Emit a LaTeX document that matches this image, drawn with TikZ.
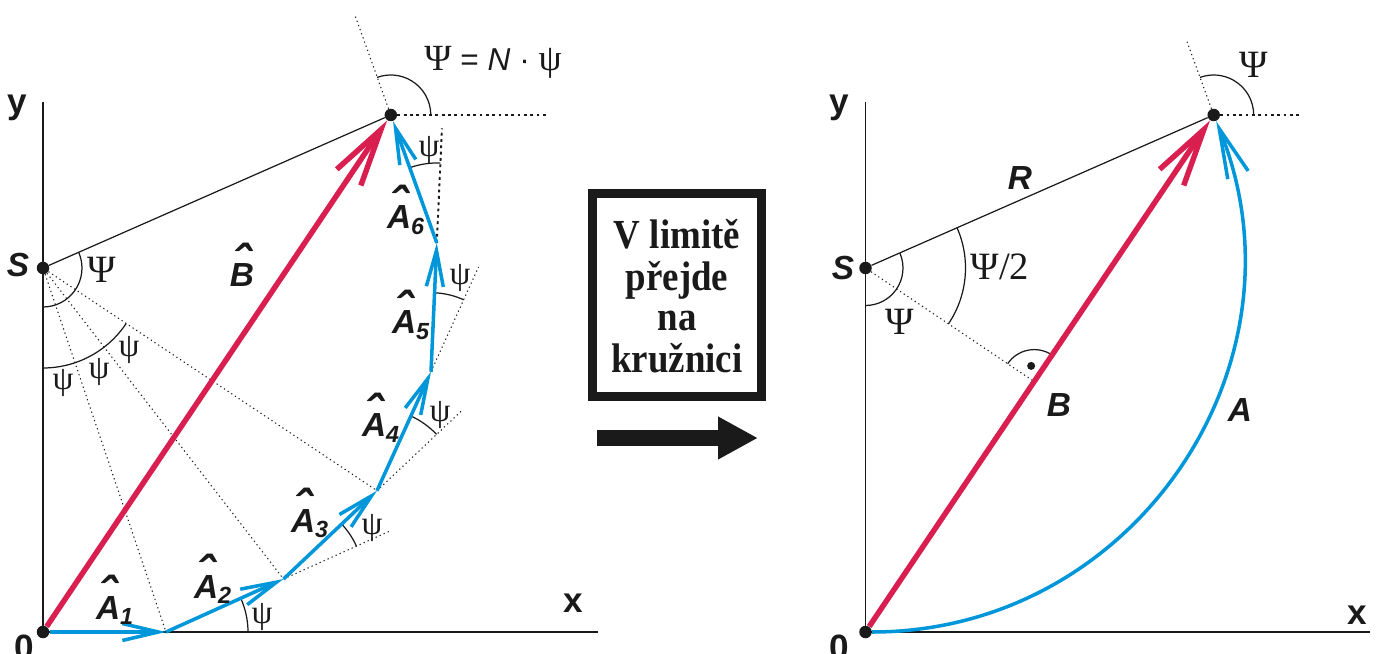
\documentclass[tikz,border=0pt]{standalone}
\usepackage{fontspec}
\usepackage{graphicx}
\setmainfont{Liberation Sans}
\newfontfamily\grkfont{Liberation Serif}
\usetikzlibrary{arrows.meta,calc}
\definecolor{phRed}{HTML}{D91E50}
\definecolor{phBlue}{HTML}{0096DA}
\definecolor{phInk}{HTML}{1A1A1A}
\newcommand{\hatted}[1]{\leavevmode\ooalign{#1\cr\hidewidth\raisebox{0.2em}{\scalebox{1.5}{ˆ}}\hidewidth\cr}}
\newcommand{\vecA}[1]{\hatted{A}\textsubscript{#1}}
\tikzset{
  phdot/.style={circle, fill=phInk, inner sep=0pt, minimum size=2.5mm},
  phaxis/.style={draw=phInk, line width=0.7pt},
  phthin/.style={draw=phInk, line width=0.7pt},
  phdots/.style={draw=phInk, line width=0.6pt, dash pattern=on 0.7pt off 1.8pt},
  phdash/.style={draw=phInk, line width=1.1pt, dash pattern=on 1.6pt off 2pt},
  phred/.style={draw=phRed, line width=3.1pt, -{Straight Barb[length=11.5mm, width=5.8mm, sharp]}},
  phblue/.style={draw=phBlue, line width=2pt, -{Straight Barb[length=7.2mm, width=3.4mm, sharp]}},
  phlbl/.style={font=\fontsize{19}{21}\selectfont\bfseries\itshape, text=phInk, inner sep=0pt},
  phax/.style={font=\fontsize{20}{22}\selectfont\bfseries, text=phInk, inner sep=0pt},
  phcap/.style={font=\fontsize{22}{24}\selectfont\grkfont, text=phInk, inner sep=0pt},
  phsmall/.style={font=\fontsize{19}{21}\selectfont\grkfont, text=phInk, inner sep=0pt}
}

\begin{document}
\begin{tikzpicture}[x=0.2mm, y=0.2mm]
  \useasboundingbox (0,0) rectangle (1380,653);

  % left: chain of N phasors
  \node[phdot] (O) at (43,21) {};
  \node[phdot] (S) at (43,385) {};
  \node[phdot] (P) at (390.8,538) {};
  \coordinate (V1) at (166,21);
  \coordinate (V2) at (283.5,74);
  \coordinate (V3) at (377,162.3);
  \coordinate (V4) at (431,281.3);
  \coordinate (V5) at (436.8,410);
  \coordinate (ytop) at (43,551);
  \coordinate (xend) at (598,21);
  \coordinate (hor1) at (547,538);

  \draw[phaxis] (ytop) -- (O.center) -- (xend);
  \draw[phdots] (S) -- (V1);
  \draw[phdots] (S) -- (V2);
  \draw[phdots] (S) -- (V3);
  \draw[phthin] (S) -- (P);
  \draw[phdash] (V1) -- ($(O)!2.47!(V1)$);
  \draw[phdots] (V2) -- ($(V1)!1.91!(V2)$);
  \draw[phdots] (V3) -- ($(V2)!1.92!(V3)$);
  \draw[phdots] (V4) -- ($(V3)!1.88!(V4)$);
  \draw[phdash] (V5) -- ($(V4)!1.89!(V5)$);
  \draw[phdots] (P) -- ($(V5)!1.78!(P)$);
  \draw[phdash] (P) -- (hor1);

  \draw[phthin] ($(S)+(23.7:39)$) arc[start angle=23.7, end angle=-90, radius=39];
  \draw[phthin] ($(S)+(-90:100)$) arc[start angle=-90, end angle=-33.7, radius=100];
  \draw[phthin] ($(V1)+(0:82)$) arc[start angle=0, end angle=24.3, radius=82];
  \draw[phthin] ($(V2)+(24.3:80)$) arc[start angle=24.3, end angle=43.4, radius=80];
  \draw[phthin] ($(V3)+(43.4:82)$) arc[start angle=43.4, end angle=65.6, radius=82];
  \draw[phthin] ($(V4)+(65.6:79)$) arc[start angle=65.6, end angle=87.4, radius=79];
  \draw[phthin] ($(V5)+(87.4:80)$) arc[start angle=87.4, end angle=109.8, radius=80];
  \draw[phthin] ($(P)+(0:40)$) arc[start angle=0, end angle=110, radius=40];

  \draw[phred] (O) -- (P);
  \draw[phblue] (O) -- (V1);
  \draw[phblue] (V1) -- (V2);
  \draw[phblue] (V2) -- (V3);
  \draw[phblue] (V3) -- (V4);
  \draw[phblue] (V4) -- (V5);
  \draw[phblue] (V5) -- (P);

  \node[phax] (ly) at (17,545) {y};
  \node[phlbl] (lS) at (18,388) {S};
  \node[phax] (l0) at (24,6) {0};
  \node[phax] (lx) at (573,50) {x};
  \node[phcap] (bigS) at (102,383) {Ψ};
  \node[phsmall] (psiA) at (63,270) {ψ};
  \node[phsmall] (psiB) at (99,281) {ψ};
  \node[phsmall] (psiC) at (129,303) {ψ};
  \node[phsmall] (psi1) at (262,36) {ψ};
  \node[phsmall] (psi2) at (372,125) {ψ};
  \node[phsmall] (psi3) at (440,238) {ψ};
  \node[phsmall] (psi4) at (460,375) {ψ};
  \node[phsmall] (psi5) at (429,503) {ψ};
  \node[phlbl, anchor=base] (lB) at (242,366) {\hatted{B}};
  \node[phlbl, anchor=base] (lA1) at (115,34) {\vecA{1}};
  \node[phlbl, anchor=base] (lA2) at (213,55) {\vecA{2}};
  \node[phlbl, anchor=base] (lA3) at (310,121) {\vecA{3}};
  \node[phlbl, anchor=base] (lA4) at (381,216) {\vecA{4}};
  \node[phlbl, anchor=base] (lA5) at (411,319) {\vecA{5}};
  \node[phlbl, anchor=base] (lA6) at (406,424) {\vecA{6}};
  \node[text=phInk, inner sep=0pt, font=\fontsize{18}{20}\selectfont] (lsum) at (493,591)
    {{\grkfont\fontsize{21}{23}\selectfont Ψ} = \textit{N} · {\grkfont\fontsize{21}{23}\selectfont ψ}};

  % middle: the limit step
  \node[draw=phInk, line width=1.7mm, minimum width=33.8mm, minimum height=40.5mm] (limbox) at (677,358) {};
  \node[font=\fontsize{21}{20.6}\selectfont\grkfont\bfseries, text=phInk, inner sep=0pt] (limtxt) at (677,351)
    {\scalebox{1}[1.12]{\begin{tabular}{@{}c@{}}V limitě\\přejde\\na\\kružnici\end{tabular}}};
  \coordinate (arrL) at (597,215);
  \coordinate (arrR) at (758,215);
  \draw[draw=phInk, line width=3.3mm, -{Triangle[length=8mm, width=8mm]}] (arrL) -- (arrR);

  % right: circular arc
  \node[phdot] (O2) at (865.5,21) {};
  \node[phdot] (S2) at (865.5,385) {};
  \node[phdot] (P2) at (1213.7,538) {};
  \coordinate (F) at (1034.2,271.4);
  \coordinate (ytop2) at (865.5,551);
  \coordinate (xend2) at (1370,21);
  \coordinate (hor2) at (1300,538);
  \coordinate (tan2) at ($(P2)+(110:78)$);

  \draw[phaxis] (ytop2) -- (O2.center) -- (xend2);
  \draw[phdash] (1068,21) -- (1170,21);
  \draw[phthin] (S2) -- (P2);
  \draw[phdots] (S2) -- (F);
  \draw[phdots] (P2) -- (tan2);
  \draw[phdash] (P2) -- (hor2);
  \draw[phthin] ($(S2)+(23.7:37.5)$) arc[start angle=23.7, end angle=-90, radius=37.5];
  \draw[phthin] ($(S2)+(23.7:100)$) arc[start angle=23.7, end angle=-34, radius=100];
  \draw[phthin] ($(F)+(56:32)$) arc[start angle=56, end angle=146, radius=32];
  \node[phdot, minimum size=1.6mm] (Fdot) at ($(F)+(101:16)$) {};
  \draw[phthin] ($(P2)+(0:40)$) arc[start angle=0, end angle=110, radius=40];

  \draw[phred] (O2) -- (P2);
  \draw[phblue, -{Straight Barb[length=10mm, width=4.4mm, sharp]}] (O2) to[out=0, in=-68, looseness=1.09] (P2);

  \node[phax] (ry) at (839,545) {y};
  \node[phlbl] (rS) at (843,385) {S};
  \node[phax] (r0) at (839,6) {0};
  \node[phax] (rx) at (1357,38) {x};
  \node[phlbl] (rR) at (1020,475) {R};
  \node[phcap] (half) at (1000,386) {Ψ/2};
  \node[phcap] (bigS2) at (900,331) {Ψ};
  \node[phcap] (bigP2) at (1254,588) {Ψ};
  \node[phlbl] (rB) at (1059,248) {B};
  \node[phlbl] (rA) at (1240,243) {A};
\end{tikzpicture}
\end{document}
